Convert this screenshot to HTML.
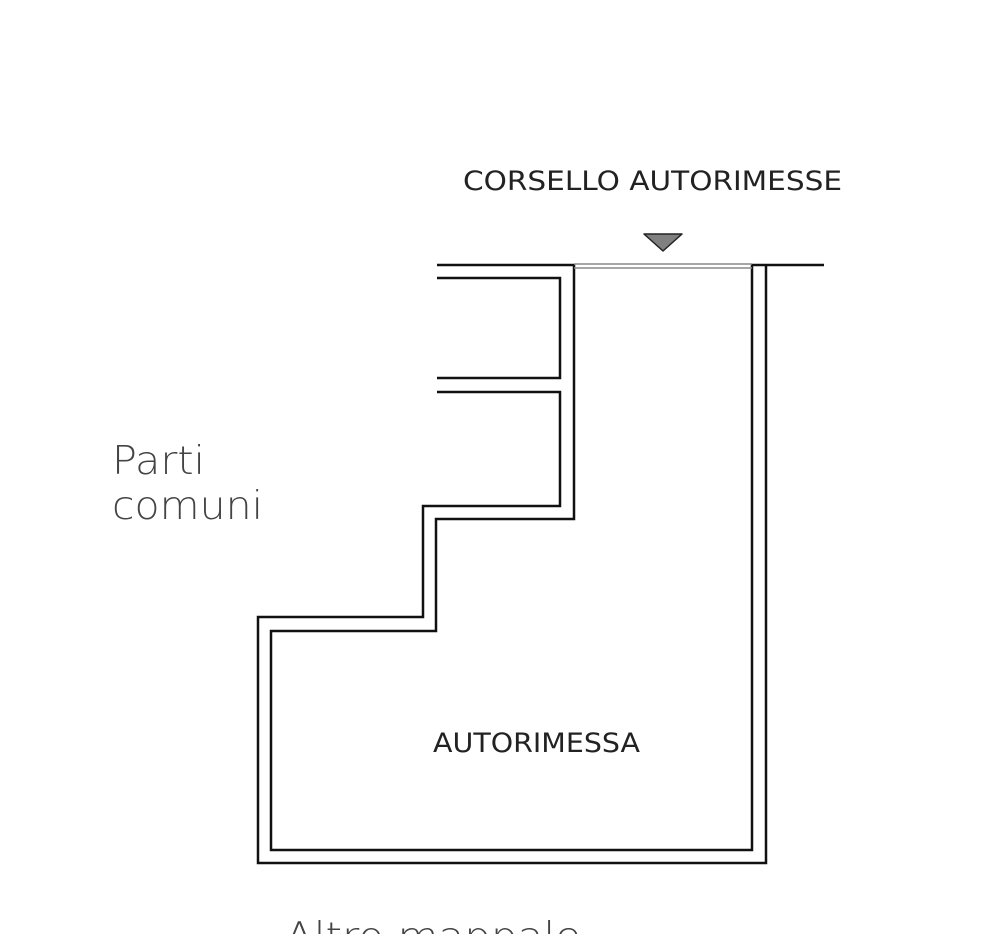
<!DOCTYPE html>
<html><head><style>html,body{margin:0;padding:0;background:#fff;}svg{display:block}</style></head>
<body>
<svg width="1000" height="934" viewBox="0 0 1000 934" xmlns="http://www.w3.org/2000/svg">
<g fill="none" stroke="#111" stroke-width="2.5" stroke-linejoin="miter">
<path d="M437 265 H574 V519 H436 V631 H271 V850 H752 V265 H824"/>
<path d="M766 265 V863 H258 V617 H423 V506 H560 V392 H437"/>
<path d="M437 378 H560 V278 H437"/>
</g>
<line x1="574" y1="264" x2="752" y2="264" stroke="#888" stroke-width="1.5"/>
<line x1="574" y1="268" x2="752" y2="268" stroke="#888" stroke-width="1.5"/>
<polygon points="644,234 682,234 663,251" fill="#808080" stroke="#222" stroke-width="1.5" stroke-linejoin="round"/>
<g font-family="'DejaVu Sans','Liberation Sans',sans-serif" fill="#222">
<text x="463" y="190" font-size="27" textLength="379" lengthAdjust="spacingAndGlyphs">CORSELLO  AUTORIMESSE</text>
<text x="433" y="752" font-size="27" textLength="207" lengthAdjust="spacingAndGlyphs">AUTORIMESSA</text>
<text x="112" y="474" font-size="39" font-weight="300" fill="#444" textLength="93" lengthAdjust="spacingAndGlyphs">Parti</text>
<text x="112" y="519" font-size="39" font-weight="300" fill="#444" textLength="151" lengthAdjust="spacingAndGlyphs">comuni</text>
<text x="285" y="950" font-size="39" font-weight="300" fill="#444" textLength="296" lengthAdjust="spacingAndGlyphs">Altro  mappale</text>
</g>
</svg>
</body></html>
